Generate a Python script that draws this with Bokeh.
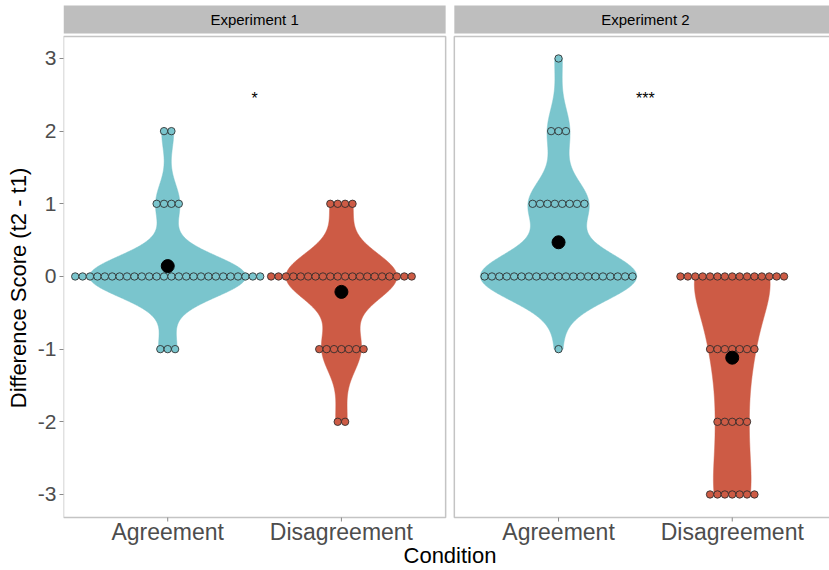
import numpy as np
from bokeh.plotting import figure
from bokeh.models import FixedTicker, Range1d
from bokeh.core.properties import value
from bokeh.embed import file_html
from bokeh.resources import INLINE

# ---- data: difference scores (t2 - t1) and how many participants gave each ----
conditions = ["Agreement", "Disagreement"]
experiments = ["Experiment 1", "Experiment 2"]
significance = ["*", "***"]
sig_y = 2.45

exp1_agree_scores = [-1, 0, 1, 2]
exp1_agree_counts = [3, 26, 4, 2]
exp1_disagree_scores = [-2, -1, 0, 1]
exp1_disagree_counts = [2, 7, 20, 4]

exp2_agree_scores = [-1, 0, 1, 2, 3]
exp2_agree_counts = [1, 21, 8, 3, 1]
exp2_disagree_scores = [-3, -2, -1, 0]
exp2_disagree_counts = [7, 5, 7, 15]

y_ticks = [-3, -2, -1, 0, 1, 2, 3]

# ---- style / layout ----
FILL = {"Agreement": "#7AC5CD", "Disagreement": "#CD5B45"}
FONT = value("Liberation Sans")
PANEL_SHIFT = 2.25          # x offset of the second facet
PX_PER_X = 173.7            # horizontal scale (px per category unit)
PX_PER_Y = 72.67            # vertical scale (px per score unit)
DOT_PX = 7.4
X0, X1 = 0.4, 0.4 + 766 / PX_PER_X
PANEL_BOTTOM = -3.317
PANEL_TOP = 3.303
STRIP_BOTTOM = 3.344
Y1 = 3.729
Y0 = PANEL_BOTTOM - 53 / PX_PER_Y   # frame reaches the bottom of the canvas


def below(px):
    """score-axis position a given number of pixels under the panel"""
    return PANEL_BOTTOM - px / PX_PER_Y


groups = [
    (0, "Agreement", exp1_agree_scores, exp1_agree_counts),
    (0, "Disagreement", exp1_disagree_scores, exp1_disagree_counts),
    (1, "Agreement", exp2_agree_scores, exp2_agree_counts),
    (1, "Disagreement", exp2_disagree_scores, exp2_disagree_counts),
]


def expand(scores, counts):
    return np.repeat(np.array(scores, dtype=float), counts)


def bw_nrd0(x):
    sd = np.std(x, ddof=1)
    iqr = np.percentile(x, 75) - np.percentile(x, 25)
    lo = min(sd, iqr / 1.34)
    if lo == 0:
        lo = sd
    return 0.9 * lo * len(x) ** -0.2


def kde(x):
    bw = bw_nrd0(x)
    grid = np.linspace(x.min(), x.max(), 512)
    d = np.exp(-0.5 * ((grid[:, None] - x[None, :]) / bw) ** 2).sum(axis=1)
    d /= len(x) * bw * np.sqrt(2 * np.pi)
    return grid, d


p = figure(width=829, height=570, output_backend="svg", toolbar_location=None,
           x_range=Range1d(X0, X1), y_range=Range1d(Y0, Y1),
           min_border_left=63, min_border_right=0, min_border_top=5,
           min_border_bottom=0, background_fill_color="white",
           border_fill_color="white")
p.outline_line_color = None
p.xgrid.visible = False
p.ygrid.visible = False
p.xaxis.visible = False

# densities, scaled per facet so the widest violin spans 0.9
dens = {}
for facet, cond, sc, ct in groups:
    dens[(facet, cond)] = kde(expand(sc, ct))
facet_max = {f: max(d.max() for (ff, _), (_, d) in dens.items() if ff == f) for f in (0, 1)}

spacing = DOT_PX / PX_PER_X
for facet, cond, sc, ct in groups:
    centre = conditions.index(cond) + 1 + facet * PANEL_SHIFT
    grid, d = dens[(facet, cond)]
    hw = 0.45 * d / facet_max[facet]
    p.patch(x=np.concatenate([centre - hw, (centre + hw)[::-1]]),
            y=np.concatenate([grid, grid[::-1]]),
            fill_color=FILL[cond], line_color=FILL[cond], line_width=0.5)

    xs, ys = [], []
    for s, n in zip(sc, ct):
        for i in range(n):
            xs.append(centre + (i - (n - 1) / 2) * spacing)
            ys.append(s)
    p.scatter(x=xs, y=ys, size=DOT_PX, fill_color=FILL[cond],
              line_color="#2b2b2b", line_alpha=0.85, line_width=1)

    mean = expand(sc, ct).mean()
    p.scatter(x=[centre], y=[mean], size=13, fill_color="black", line_color="black")

# facet frames, strips and category labels
for facet in (0, 1):
    left = X0 + facet * PANEL_SHIFT
    right = left + 2.2
    p.quad(left=[left], right=[right], bottom=[PANEL_BOTTOM], top=[PANEL_TOP],
           fill_color=None, line_color="#C4C4C4", line_width=1.5)
    p.quad(left=[left], right=[right], bottom=[STRIP_BOTTOM], top=[Y1 + 0.1],
           fill_color="#BEBEBE", line_color=None)
    p.text(x=[(left + right) / 2], y=[(STRIP_BOTTOM + Y1) / 2], text=[experiments[facet]],
           text_font=FONT, text_font_size=value("15px"), text_color="black",
           text_align="center", text_baseline="middle")
    p.text(x=[1.5 + facet * PANEL_SHIFT], y=[sig_y], text=[significance[facet]],
           text_font=FONT, text_font_size=value("16px"), text_color="black",
           text_align="center", text_baseline="middle")

    pos = [c + facet * PANEL_SHIFT for c in (1, 2)]
    p.segment(x0=pos, x1=pos, y0=[PANEL_BOTTOM] * 2, y1=[below(4)] * 2,
              line_color="#8A8A8A", line_width=1)
    p.text(x=pos, y=[below(14)] * 2, text=conditions, text_font=FONT,
           text_font_size=value("23px"), text_color="#4D4D4D",
           text_align="center", text_baseline="middle")

p.text(x=[(X0 + X0 + PANEL_SHIFT + 2.2) / 2], y=[below(38)], text=["Condition"],
       text_font=FONT, text_font_size=value("22px"), text_color="black",
       text_align="center", text_baseline="middle")

# score axis
p.yaxis.ticker = FixedTicker(ticks=y_ticks)
p.yaxis.major_label_overrides = {t: str(t) for t in y_ticks}
p.yaxis.axis_label = "Difference Score (t2 - t1)"
ax = p.yaxis
ax.axis_line_color = None
ax.major_tick_line_color = "#8A8A8A"
ax.major_tick_in = 0
ax.major_tick_out = 4
ax.minor_tick_line_color = None
ax.major_label_text_font = "Liberation Sans"
ax.major_label_text_color = "#4D4D4D"
ax.major_label_text_font_size = "21px"
ax.axis_label_text_font = "Liberation Sans"
ax.axis_label_text_font_style = "normal"
ax.axis_label_text_color = "black"
ax.axis_label_text_font_size = "22px"
ax.major_label_standoff = 3
ax.axis_label_standoff = 4

open("out.html", "w").write(file_html(p, INLINE))
